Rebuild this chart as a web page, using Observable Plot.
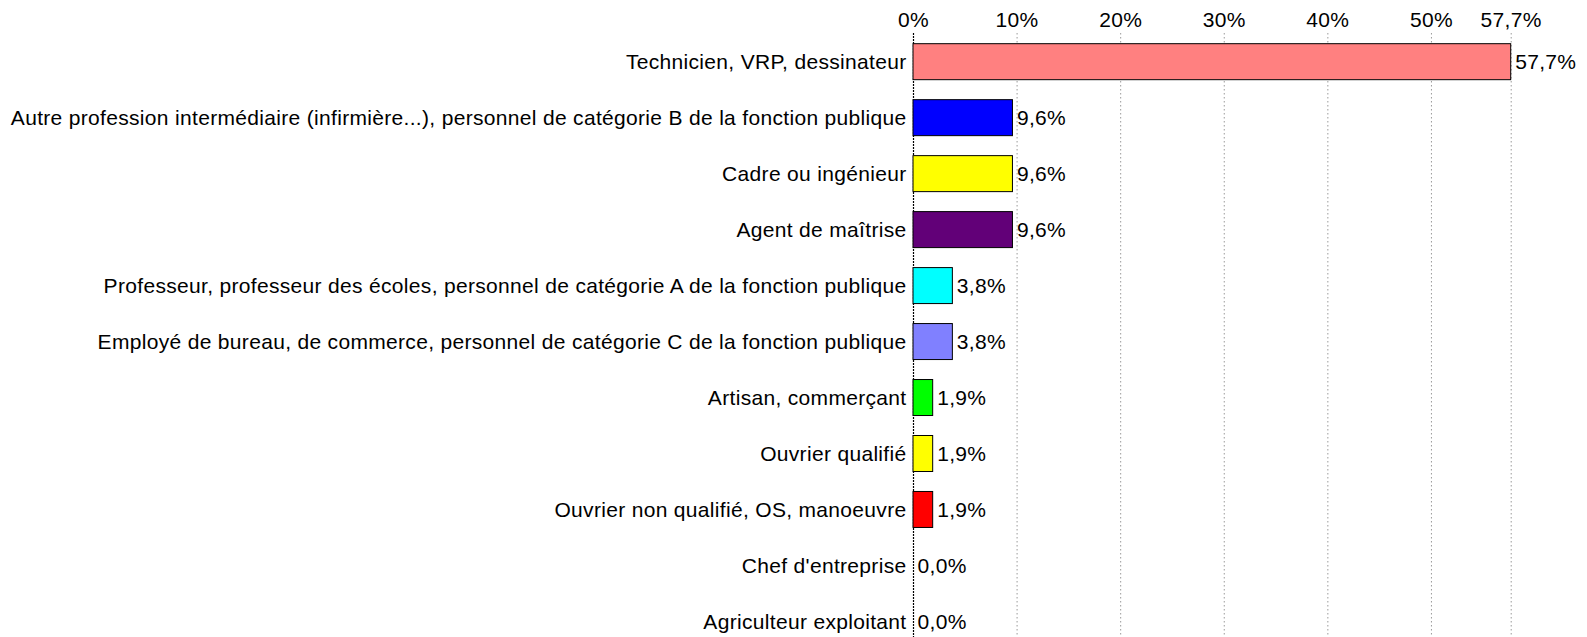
<!DOCTYPE html>
<html>
<head>
<meta charset="utf-8">
<script src="https://cdn.jsdelivr.net/npm/d3@7"></script>
<script src="https://cdn.jsdelivr.net/npm/@observablehq/plot@0.6"></script>
<style>
  html, body { margin: 0; padding: 0; background: #fff; }
  #chart svg { display: block; font-family: "Liberation Sans", Arial, sans-serif; letter-spacing: 0.32px; }
</style>
</head>
<body>
<div id="chart"></div>
<script>
const categories = [
  "Technicien, VRP, dessinateur",
  "Autre profession intermédiaire (infirmière...), personnel de catégorie B de la fonction publique",
  "Cadre ou ingénieur",
  "Agent de maîtrise",
  "Professeur, professeur des écoles, personnel de catégorie A de la fonction publique",
  "Employé de bureau, de commerce, personnel de catégorie C de la fonction publique",
  "Artisan, commerçant",
  "Ouvrier qualifié",
  "Ouvrier non qualifié, OS, manoeuvre",
  "Chef d'entreprise",
  "Agriculteur exploitant"
];
const values = [57.7, 9.6, 9.6, 9.6, 3.8, 3.8, 1.9, 1.9, 1.9, 0.0, 0.0];
const colors = ["#FF8080", "#0000FF", "#FFFF00", "#620078", "#00FFFF", "#8080FF", "#00FF00", "#FFFF00", "#FF0000", "#FFFFFF", "#FFFFFF"];
const xTicks = [0, 10, 20, 30, 40, 50, 57.7];

const data = categories.map((c, i) => ({category: c, value: values[i], color: colors[i]}));
const fmt = v => (Number.isInteger(v) ? String(v) : v.toFixed(1).replace(".", ",")) + "%";
const fmt1 = v => v.toFixed(1).replace(".", ",") + "%";

const chart = Plot.plot({
  width: 1587,
  height: 637,
  marginTop: 33,
  marginBottom: 0,
  marginLeft: 913,
  marginRight: 76,
  style: {fontSize: "21px", fontFamily: "'Liberation Sans', Arial, sans-serif", color: "#000", background: "#fff"},
  x: {domain: [0, 57.7], range: [913, 1510.7], label: null},
  y: {domain: categories, range: [33.7, 649.4], paddingInner: 0.357, paddingOuter: 0.1785, label: null, round: false},
  marks: [
    Plot.ruleX(xTicks.filter(t => t > 0), {stroke: "#9a9a9a", strokeDasharray: "1.5,2.5", strokeWidth: 1}),
    Plot.ruleX([0], {stroke: "#000", strokeDasharray: "2,1", strokeWidth: 1.2}),
    Plot.barX(data, {x: "value", y: "category", fill: "color", stroke: d => d.value > 0 ? "#000" : "none", strokeWidth: 1}),
    Plot.text(data, {x: "value", y: "category", text: d => fmt1(d.value), textAnchor: "start", dx: 4, fontSize: 21, fill: "#000"}),
    Plot.axisX(xTicks, {anchor: "top", tickSize: 0, tickPadding: 7, tickFormat: fmt, fontSize: 21, fill: "#000", label: null}),
    Plot.axisY({anchor: "left", tickSize: 0, tickPadding: 7, fontSize: 21, fill: "#000", label: null})
  ]
});
document.getElementById("chart").appendChild(chart);
</script>
</body>
</html>
